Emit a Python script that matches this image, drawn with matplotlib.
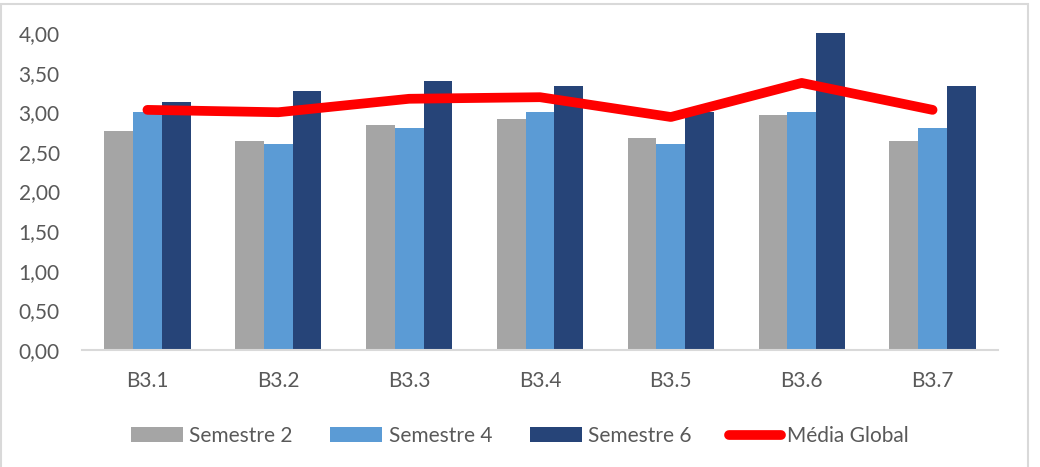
import matplotlib
matplotlib.use("Agg")
import matplotlib.pyplot as plt
from matplotlib.patches import Rectangle
import numpy as np

categories = ["B3.1", "B3.2", "B3.3", "B3.4", "B3.5", "B3.6", "B3.7"]
semestre2 = [2.76, 2.64, 2.84, 2.92, 2.67, 2.96, 2.64]
semestre4 = [3.00, 2.60, 2.80, 3.00, 2.60, 3.00, 2.80]
semestre6 = [3.13, 3.27, 3.40, 3.33, 3.00, 4.00, 3.33]
media_global = [3.03, 3.00, 3.17, 3.19, 2.94, 3.37, 3.03]
yticks = [0, 0.5, 1.0, 1.5, 2.0, 2.5, 3.0, 3.5, 4.0]

plt.rcParams['font.family'] = ['Lato', 'DejaVu Sans']
txt = '#595959'

W, H = 1040, 467
fig = plt.figure(figsize=(W/100, H/100), dpi=100)
ax = fig.add_axes([82/W, (H-350)/H, (998-82)/W, (350-33)/H])

x = np.arange(len(categories))
bw = 0.22
b2 = ax.bar(x - bw, semestre2, bw, color='#A5A5A5', label='Semestre 2', zorder=2)
b4 = ax.bar(x, semestre4, bw, color='#5B9BD5', label='Semestre 4', zorder=2)
b6 = ax.bar(x + bw, semestre6, bw, color='#264478', label='Semestre 6', zorder=2)
ln, = ax.plot(x, media_global, color='#FF0000', lw=7, solid_capstyle='round',
              solid_joinstyle='round', label='Média Global', zorder=3)

ax.set_xlim(-0.5, len(categories) - 0.5)
ax.set_ylim(0, 4)
ax.set_yticks(yticks)
ax.set_yticklabels([f"{v:.2f}".replace('.', ',') for v in yticks])
ax.set_xticks(x)
ax.set_xticklabels(categories)
ax.tick_params(axis='y', length=0, pad=16, labelsize=15, labelcolor=txt)
ax.tick_params(axis='x', length=0, pad=15, labelsize=15, labelcolor=txt)
for s in ['top', 'right', 'left']:
    ax.spines[s].set_visible(False)
ax.spines['bottom'].set_color('#D9D9D9')
ax.spines['bottom'].set_linewidth(1.5)

leg = fig.legend([b2, b4, b6, ln], ['Semestre 2', 'Semestre 4', 'Semestre 6', 'Média Global'],
                 loc='center', bbox_to_anchor=(0.5, 1 - 436/H),
                 ncol=4, frameon=False, fontsize=15, handlelength=2.5,
                 handleheight=0.7, handletextpad=0.3, columnspacing=1.8)
for t in leg.get_texts():
    t.set_color(txt)

fig.patches.append(Rectangle((1/W, -0.1), (1027/W), 1 - 4/H + 0.1,
                             transform=fig.transFigure, fill=False,
                             edgecolor='#D9D9D9', lw=1.5, figure=fig))

fig.savefig('out.png', dpi=100, facecolor='white')
